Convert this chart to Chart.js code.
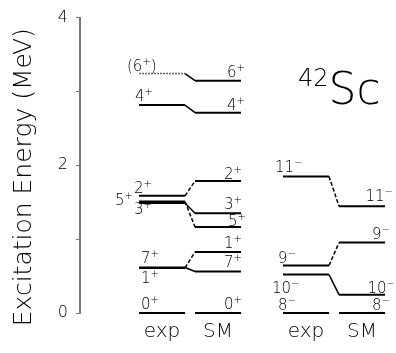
<!DOCTYPE html>
<html><head><meta charset="utf-8">
<script src="https://cdn.jsdelivr.net/npm/chart.js@4/dist/chart.umd.min.js"></script>
<style>html,body{margin:0;padding:0;background:#fff}canvas{display:block}</style>
</head><body>
<canvas id="c" width="396" height="353"></canvas>
<script>
// ---- data (MeV) ----
const posSpins   = ['0', '7', '1', '5', '3', '2', '4', '6'];
const posExp     = [0, 0.617, 0.611, 1.510, 1.490, 1.586, 2.815, 3.242];
const posSM      = [0, 0.562, 0.826, 1.165, 1.352, 1.786, 2.713, 3.146];
const negSpins   = ['8', '10', '9', '11'];
const negExp     = [0, 0.520, 0.643, 1.850];
const negSM      = [0, 0.248, 0.953, 1.446];
const columnNames = ['exp', 'SM', 'exp', 'SM'];
const yTicks     = [0, 1, 2, 3, 4];

// ---- layout (separate from data) ----
const cols = { expL: [59, 105], smL: [115, 161], expR: [203, 249], smR: [259, 305] };
const colCenters = [82, 138, 226, 282];
const posConn = ['none', 'solid', 'dashed', 'dashed', 'solid', 'dashed', 'solid', 'solid'];
const negConn = ['none', 'solid', 'dashed', 'dashed'];
// label placement: [dx, dy, align]
const posExpLab = [[2,-4,'left'],[2,-4,'left'],[2,15,'left'],[-6,4,'right'],[-5,11,'left'],[-5,-3,'left'],[-4,-4,'left'],[-12,-3,'left']];
const posSMLab  = [[1,-4],[1,-4],[1,-4],[5,-1],[1,-4],[1,-2],[4,-3],[4,-4]];
const negExpLab = [[-5,-3],[-11,18],[-5,-3],[-8,-4]];
const negSMLab  = [[5,-3],[10,-2],[5,-4],[8,-5]];

const FONT = "'DejaVu Sans', 'Liberation Sans', sans-serif";
const W = '200';

function levelDataset(expE, smE, colE, colS, conn, expDotted) {
  return {
    data: [{x: colE[0], y: expE}, {x: colE[1], y: expE}, {x: colS[0], y: smE}, {x: colS[1], y: smE}],
    borderColor: '#000', borderWidth: 2, pointRadius: 0, tension: 0, clip: false, fill: false,
    segment: {
      borderColor: c => (c.p0DataIndex === 1 && conn === 'none') ? 'rgba(0,0,0,0)' : (c.p0DataIndex === 0 && expDotted ? '#666' : undefined),
      borderDash: c => c.p0DataIndex === 1 ? (conn === 'dashed' ? [4, 2] : []) : (c.p0DataIndex === 0 && expDotted ? [2, 1] : []),
      borderWidth: c => c.p0DataIndex === 1 ? 1.5 : (c.p0DataIndex === 0 && expDotted ? 1.5 : undefined)
    }
  };
}

const datasets = [];
posSpins.forEach((s, i) => datasets.push(levelDataset(posExp[i], posSM[i], cols.expL, cols.smL, posConn[i], s === '6')));
negSpins.forEach((s, i) => datasets.push(levelDataset(negExp[i], negSM[i], cols.expR, cols.smR, negConn[i], false)));

function drawSpin(ctx, x, y, spin, par, align, paren) {
  const big = W + ' 15px ' + FONT, small = W + ' 10px ' + FONT;
  ctx.font = big; const w1 = ctx.measureText(spin).width;
  ctx.font = small; const w2 = ctx.measureText(par).width;
  let wP = 0, wC = 0;
  ctx.font = big;
  if (paren) { wP = ctx.measureText('(').width; wC = ctx.measureText(')').width; }
  const total = wP + w1 + w2 + wC;
  let x0 = align === 'right' ? x - total : x;
  ctx.textAlign = 'left'; ctx.textBaseline = 'alphabetic'; ctx.fillStyle = '#000';
  if (paren) { ctx.fillText('(', x0, y); x0 += wP; }
  ctx.fillText(spin, x0, y); x0 += w1;
  ctx.font = small; ctx.fillText(par, x0, y - 6); x0 += w2;
  if (paren) { ctx.font = big; ctx.fillText(')', x0, y); }
}

const labelPlugin = {
  id: 'labels',
  afterDatasetsDraw(chart) {
    const ctx = chart.ctx, xs = chart.scales.x, ys = chart.scales.y;
    ctx.save();
    posSpins.forEach((s, i) => {
      const le = posExpLab[i];
      drawSpin(ctx, xs.getPixelForValue(cols.expL[0]) + le[0], ys.getPixelForValue(posExp[i]) + le[1], s, '+', le[2], s === '6');
      const ls = posSMLab[i];
      drawSpin(ctx, xs.getPixelForValue(cols.smL[1]) + ls[0], ys.getPixelForValue(posSM[i]) + ls[1], s, '+', 'right', false);
    });
    negSpins.forEach((s, i) => {
      const le = negExpLab[i];
      drawSpin(ctx, xs.getPixelForValue(cols.expR[0]) + le[0], ys.getPixelForValue(negExp[i]) + le[1], s, '\u2212', 'left', false);
      const ls = negSMLab[i];
      drawSpin(ctx, xs.getPixelForValue(cols.smR[1]) + ls[0], ys.getPixelForValue(negSM[i]) + ls[1], s, '\u2212', 'right', false);
    });
    // nucleus title
    ctx.fillStyle = '#000'; ctx.textAlign = 'left'; ctx.textBaseline = 'alphabetic';
    ctx.font = W + ' 24px ' + FONT; ctx.fillText('42', 298, 86);
    const w = ctx.measureText('42').width;
    ctx.font = W + ' 44px ' + FONT; ctx.fillText('Sc', 298 + w, 104);
    ctx.restore();
  }
};

new Chart(document.getElementById('c'), {
  type: 'line',
  data: { datasets },
  options: {
    responsive: false, animation: false, devicePixelRatio: 1,
    layout: { padding: { top: 14, right: 0, left: 0, bottom: 0 } },
    plugins: { legend: { display: false }, tooltip: { enabled: false } },
    scales: {
      x: {
        type: 'linear', min: 0, max: 316,
        grid: { display: false, drawTicks: false }, border: { display: false },
        afterFit: s => { s.height = 40; },
        afterBuildTicks: s => { s.ticks = colCenters.map(v => ({ value: v })); },
        ticks: { autoSkip: false, maxRotation: 0, padding: 7, color: '#000',
          font: { size: 20, family: FONT, weight: W }, callback: (v, i) => columnNames[i] }
      },
      y: {
        type: 'linear', min: 0, max: 4,
        afterFit: s => { s.width = 80; },
        afterBuildTicks: s => { s.ticks = yTicks.map(v => ({ value: v })); },
        border: { display: true, color: '#777', width: 2 },
        grid: { drawOnChartArea: false, drawTicks: true, tickLength: 4, color: '#777', lineWidth: 1 },
        ticks: { padding: 8, color: '#000', font: { size: 16, family: FONT, weight: W },
          callback: v => (v % 2 === 0 ? String(v) : '') },
        title: { display: true, text: 'Excitation Energy (MeV)\u00a0\u00a0\u00a0', color: '#000',
          font: { size: 25, family: FONT, weight: W }, padding: { top: 9, bottom: 0 } }
      }
    }
  },
  plugins: [labelPlugin]
});
</script>
</body></html>
